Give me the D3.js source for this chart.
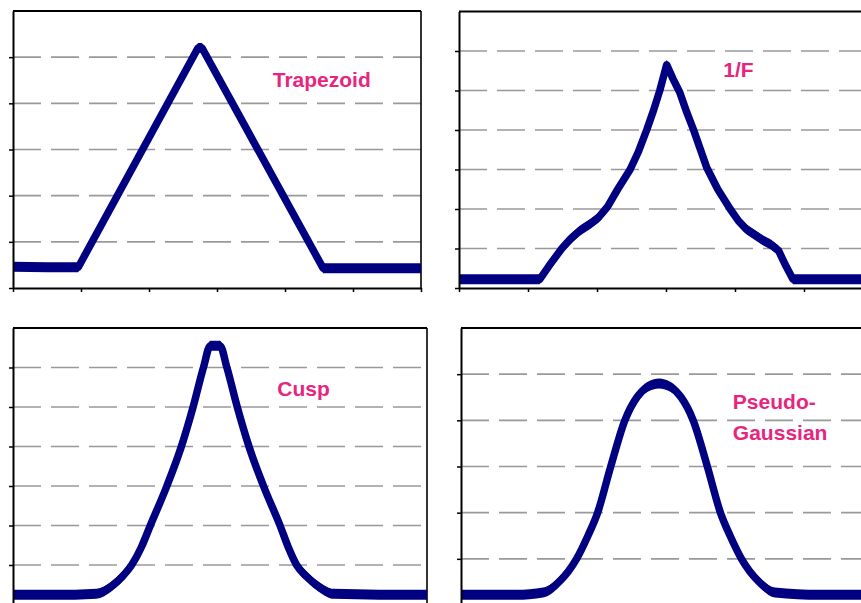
<!DOCTYPE html>
<html>
<head>
<meta charset="utf-8">
<script src="https://cdn.jsdelivr.net/npm/d3@7"></script>
<style>
  html, body { margin: 0; padding: 0; background: #fff; }
  svg { display: block; }
</style>
</head>
<body>
<svg id="chart" width="861" height="603"></svg>
<script>
// ---------------- DATA ----------------
const panelNames = ["Trapezoid", "1/F", "Cusp", "Pseudo-Gaussian"];
const xTickValues = [0, 1, 2, 3, 4, 5, 6];

const trapezoidX = [0, 0.5, 0.96, 2.72, 2.78, 4.56, 5.0, 6];
const trapezoidY = [0.46, 0.45, 0.45, 5.2, 5.2, 0.43, 0.43, 0.43];

const oneOverFX = [0, 1.0, 1.17, 1.30, 1.49, 1.62, 1.75, 1.90, 2.02, 2.15, 2.30, 2.48, 2.60, 2.72, 2.82, 2.91, 3.01,
                   3.10, 3.20, 3.30, 3.40, 3.50, 3.59, 3.75, 3.93, 4.05, 4.17, 4.30, 4.41, 4.52, 4.63, 4.74, 4.84, 5.2, 6];
const oneOverFY = [0.22, 0.22, 0.22, 0.55, 1.0, 1.25, 1.45, 1.62, 1.78, 2.05, 2.5, 3.0, 3.45, 4.0, 4.5, 5.0, 5.65,
                   5.3, 4.95, 4.45, 4.0, 3.5, 3.05, 2.5, 2.0, 1.7, 1.48, 1.33, 1.2, 1.1, 0.95, 0.55, 0.22, 0.22, 0.22];

const cuspX = [0, 0.9, 1.21, 1.42, 1.58, 1.72, 1.86, 1.99, 2.23, 2.44, 2.61, 2.76, 2.86,
               3.00, 3.10, 3.25, 3.42, 3.63, 3.87, 3.99, 4.11, 4.26, 4.43, 4.65, 5.3, 6];
const cuspY = [0.25, 0.25, 0.27, 0.45, 0.7, 1.0, 1.45, 2.0, 3.0, 4.0, 5.0, 6.0, 6.55,
               6.55, 6.0, 5.0, 4.0, 3.0, 2.0, 1.45, 1.0, 0.7, 0.45, 0.27, 0.25, 0.25];

const gaussX = [0, 0.8, 1.19, 1.42, 1.675, 1.84, 1.98, 2.17, 2.375, 2.55, 2.70, 2.87,
                3.04, 3.19, 3.365, 3.57, 3.76, 3.90, 4.065, 4.32, 4.55, 5.2, 6];
const gaussY = [0.22, 0.22, 0.27, 0.5, 1.0, 1.5, 2.0, 3.0, 4.0, 4.5, 4.72, 4.8,
                4.72, 4.5, 4.0, 3.0, 2.0, 1.5, 1.0, 0.5, 0.27, 0.22, 0.22];

const yMaxes = [6, 7, 7, 6];

// ---------------- LAYOUT ----------------
const panels = [
  { xs: trapezoidX, ys: trapezoidY, yMax: yMaxes[0], curve: d3.curveLinear,
    left: 13, right: 421, top: 11, bottom: 288, label: [panelNames[0]], lx: 3.82, ly: 4.35 },
  { xs: oneOverFX, ys: oneOverFY, yMax: yMaxes[1], curve: d3.curveLinear,
    left: 459, right: 873, top: 11.5, bottom: 288, label: [panelNames[1]], lx: 3.83, ly: 5.34 },
  { xs: cuspX, ys: cuspY, yMax: yMaxes[2], curve: d3.curveMonotoneX,
    left: 13, right: 427, top: 328, bottom: 604.5, label: [panelNames[2]], lx: 3.83, ly: 5.28 },
  { xs: gaussX, ys: gaussY, yMax: yMaxes[3], curve: d3.curveMonotoneX,
    left: 461, right: 875, top: 328, bottom: 605, label: ["Pseudo-", "Gaussian"], lx: 3.94, ly: 4.25 }
];

const svg = d3.select("#chart");
svg.append("rect").attr("width", 861).attr("height", 603).attr("fill", "#fff");

const navy = "#000080";
const pink = "#E6267E";

panels.forEach(p => {
  const x = d3.scaleLinear().domain([0, 6]).range([p.left, p.right]);
  const y = d3.scaleLinear().domain([0, p.yMax]).range([p.bottom, p.top]);
  const g = svg.append("g");

  // dashed gridlines
  g.selectAll("line.grid")
    .data(d3.range(1, p.yMax))
    .join("line")
    .attr("class", "grid")
    .attr("x1", x(0)).attr("x2", x(6))
    .attr("y1", d => y(d)).attr("y2", d => y(d))
    .attr("stroke", "#999")
    .attr("stroke-width", 1.6)
    .attr("stroke-dasharray", "28,10");

  // frame: top and right
  g.append("line").attr("x1", x(0)).attr("x2", x(6)).attr("y1", y(p.yMax)).attr("y2", y(p.yMax))
    .attr("stroke", "#000").attr("stroke-width", 2);
  g.append("line").attr("x1", x(6)).attr("x2", x(6)).attr("y1", y(0)).attr("y2", y(p.yMax))
    .attr("stroke", "#000").attr("stroke-width", 1.6);

  const data = p.xs.map((v, i) => [v, p.ys[i]]);

  // vertical noise band + thick trace
  const band = d3.area()
    .x(d => x(d[0]))
    .y0(d => y(d[1]) + 5)
    .y1(d => y(d[1]) - 5)
    .curve(p.curve);
  g.append("path").datum(data).attr("d", band).attr("fill", navy);

  const line = d3.line().x(d => x(d[0])).y(d => y(d[1])).curve(p.curve);
  g.append("path").datum(data).attr("d", line)
    .attr("fill", "none").attr("stroke", navy).attr("stroke-width", 7.5)
    .attr("stroke-linejoin", "round");

  // axes
  const ax = g.append("g").attr("transform", `translate(0,${y(0)})`)
    .call(d3.axisBottom(x).tickValues(xTickValues).tickSize(4).tickSizeOuter(0).tickFormat(""));
  const ay = g.append("g").attr("transform", `translate(${x(0)},0)`)
    .call(d3.axisLeft(y).tickValues(d3.range(0, p.yMax)).tickSize(4).tickSizeOuter(0).tickFormat(""));
  [ax, ay].forEach(a => {
    a.select(".domain").attr("stroke", "#000").attr("stroke-width", 2);
    a.selectAll(".tick line").attr("stroke", "#000").attr("stroke-width", 1.5);
  });

  // label
  const t = g.append("text")
    .attr("x", x(p.lx)).attr("y", y(p.ly))
    .attr("fill", pink)
    .attr("font-family", "'Liberation Sans', Arial, sans-serif")
    .attr("font-weight", "bold")
    .attr("font-size", 21);
  p.label.forEach((s, i) => {
    t.append("tspan").attr("x", x(p.lx)).attr("dy", i === 0 ? 0 : 31).text(s);
  });
});
</script>
</body>
</html>
